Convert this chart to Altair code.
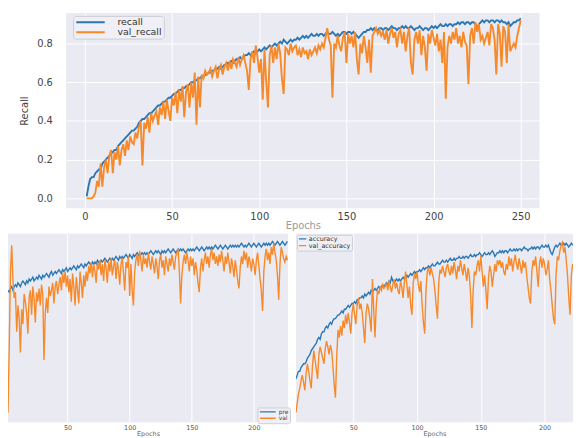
import altair as alt
import pandas as pd

# ---------------- data ----------------
top_epochs = list(range(1, 251))
recall = [
    0.01,0.06,0.10,0.11,0.11,0.13,0.14,0.15,0.15,0.18,
    0.19,0.20,0.21,0.22,0.23,0.24,0.25,0.25,0.27,0.28,
    0.29,0.30,0.31,0.32,0.33,0.34,0.35,0.35,0.36,0.37,
    0.39,0.40,0.41,0.41,0.42,0.43,0.44,0.44,0.45,0.46,
    0.47,0.48,0.48,0.49,0.50,0.50,0.51,0.52,0.52,0.53,
    0.54,0.54,0.55,0.56,0.56,0.57,0.57,0.58,0.58,0.59,
    0.60,0.60,0.61,0.61,0.62,0.62,0.63,0.63,0.64,0.64,
    0.65,0.65,0.66,0.66,0.67,0.67,0.68,0.67,0.68,0.69,
    0.69,0.70,0.70,0.71,0.70,0.71,0.72,0.72,0.73,0.72,
    0.73,0.74,0.74,0.75,0.74,0.75,0.76,0.75,0.76,0.77,
    0.76,0.77,0.78,0.77,0.78,0.79,0.78,0.79,0.80,0.79,
    0.80,0.81,0.80,0.82,0.81,0.80,0.81,0.82,0.81,0.82,
    0.82,0.83,0.82,0.83,0.84,0.83,0.84,0.83,0.84,0.85,
    0.84,0.84,0.85,0.84,0.85,0.85,0.84,0.85,0.86,0.85,
    0.85,0.86,0.85,0.84,0.85,0.84,0.85,0.86,0.86,0.85,
    0.86,0.86,0.85,0.86,0.85,0.84,0.83,0.84,0.85,0.86,
    0.86,0.87,0.87,0.88,0.87,0.88,0.87,0.87,0.88,0.88,
    0.87,0.88,0.88,0.87,0.88,0.89,0.88,0.88,0.87,0.88,
    0.88,0.89,0.88,0.89,0.88,0.88,0.89,0.88,0.87,0.88,
    0.88,0.89,0.88,0.87,0.88,0.88,0.87,0.88,0.89,0.88,
    0.89,0.88,0.89,0.90,0.89,0.89,0.90,0.89,0.90,0.90,
    0.89,0.90,0.90,0.91,0.90,0.91,0.91,0.90,0.91,0.91,
    0.90,0.91,0.91,0.90,0.88,0.90,0.91,0.92,0.91,0.92,
    0.92,0.91,0.92,0.92,0.91,0.92,0.92,0.91,0.92,0.91,
    0.91,0.90,0.91,0.89,0.90,0.91,0.91,0.92,0.92,0.93,
]
val_recall = [
    0.00,0.00,0.00,0.00,0.01,0.03,0.09,0.06,0.18,0.06,
    0.16,0.20,0.13,0.22,0.25,0.13,0.24,0.20,0.27,0.17,
    0.25,0.28,0.22,0.30,0.25,0.32,0.29,0.28,0.34,0.31,
    0.37,0.40,0.17,0.39,0.36,0.42,0.34,0.44,0.40,0.43,
    0.45,0.38,0.47,0.43,0.50,0.41,0.51,0.45,0.40,0.52,
    0.48,0.55,0.44,0.56,0.50,0.58,0.42,0.55,0.59,0.47,
    0.60,0.52,0.65,0.38,0.63,0.47,0.64,0.62,0.66,0.64,
    0.65,0.67,0.63,0.66,0.68,0.62,0.67,0.69,0.64,0.68,
    0.70,0.66,0.71,0.67,0.72,0.70,0.68,0.73,0.69,0.72,
    0.74,0.70,0.66,0.56,0.72,0.76,0.70,0.79,0.73,0.65,
    0.72,0.51,0.77,0.60,0.47,0.74,0.79,0.70,0.78,0.72,
    0.80,0.75,0.62,0.54,0.78,0.77,0.74,0.80,0.76,0.78,
    0.79,0.74,0.77,0.73,0.78,0.75,0.76,0.72,0.77,0.74,
    0.76,0.78,0.75,0.79,0.77,0.80,0.78,0.83,0.88,0.82,
    0.79,0.52,0.80,0.78,0.84,0.79,0.76,0.83,0.86,0.70,
    0.85,0.80,0.84,0.78,0.86,0.72,0.64,0.80,0.75,0.84,
    0.78,0.70,0.82,0.65,0.84,0.86,0.88,0.85,0.87,0.84,
    0.86,0.82,0.87,0.80,0.85,0.88,0.83,0.86,0.78,0.85,
    0.87,0.80,0.86,0.76,0.84,0.88,0.70,0.64,0.82,0.86,
    0.80,0.87,0.74,0.84,0.78,0.66,0.85,0.80,0.87,0.83,
    0.79,0.85,0.76,0.82,0.70,0.86,0.515,0.78,0.84,0.80,
    0.86,0.82,0.88,0.80,0.84,0.78,0.86,0.81,0.79,0.59,
    0.84,0.88,0.80,0.91,0.86,0.90,0.82,0.84,0.80,0.83,
    0.86,0.79,0.90,0.88,0.82,0.64,0.90,0.85,0.68,0.89,
    0.86,0.70,0.90,0.76,0.78,0.80,0.78,0.84,0.88,0.92,
]

# bottom-left panel (precision), visible epochs 2..227
bl_epochs = list(range(2, 228))
precision = [
    0.70,0.69,0.71,0.72,0.70,0.72,0.73,0.72,0.74,0.73,
    0.72,0.74,0.75,0.74,0.73,0.75,0.74,0.76,0.75,0.76,
    0.77,0.75,0.76,0.77,0.76,0.78,0.77,0.76,0.78,0.77,
    0.78,0.79,0.78,0.77,0.79,0.80,0.78,0.79,0.80,0.79,
    0.80,0.81,0.80,0.79,0.81,0.80,0.81,0.82,0.80,0.81,
    0.82,0.81,0.82,0.83,0.82,0.81,0.83,0.82,0.83,0.84,
    0.83,0.82,0.84,0.83,0.84,0.85,0.84,0.83,0.85,0.84,
    0.85,0.84,0.86,0.85,0.84,0.86,0.85,0.86,0.87,0.86,
    0.85,0.86,0.87,0.86,0.87,0.86,0.87,0.88,0.87,0.86,
    0.88,0.87,0.88,0.87,0.88,0.89,0.88,0.87,0.89,0.88,
    0.87,0.89,0.88,0.89,0.90,0.89,0.88,0.89,0.90,0.89,
    0.90,0.89,0.90,0.89,0.90,0.91,0.90,0.89,0.90,0.91,
    0.90,0.91,0.90,0.89,0.91,0.90,0.91,0.90,0.91,0.92,
    0.91,0.90,0.91,0.92,0.91,0.90,0.91,0.92,0.91,0.92,
    0.91,0.92,0.91,0.90,0.91,0.92,0.91,0.92,0.91,0.92,
    0.91,0.92,0.93,0.92,0.91,0.92,0.93,0.92,0.91,0.92,
    0.93,0.92,0.93,0.92,0.93,0.92,0.93,0.94,0.93,0.92,
    0.93,0.94,0.93,0.92,0.93,0.94,0.93,0.92,0.93,0.94,
    0.93,0.94,0.93,0.94,0.93,0.94,0.93,0.94,0.95,0.94,
    0.93,0.94,0.93,0.94,0.95,0.94,0.93,0.94,0.95,0.94,
    0.93,0.94,0.95,0.94,0.93,0.94,0.95,0.94,0.95,0.94,
    0.95,0.94,0.95,0.96,0.95,0.94,0.95,0.96,0.95,0.94,
    0.95,0.96,0.95,0.94,0.95,0.96,
]
val_precision = [
    0.05,0.40,0.80,0.94,0.75,0.66,0.69,0.48,0.62,0.55,
    0.37,0.60,0.52,0.68,0.64,0.58,0.47,0.66,0.70,0.57,
    0.72,0.66,0.53,0.69,0.64,0.71,0.62,0.73,0.68,0.33,
    0.58,0.66,0.58,0.72,0.67,0.70,0.74,0.63,0.72,0.75,
    0.68,0.73,0.77,0.70,0.79,0.74,0.80,0.72,0.78,0.69,
    0.76,0.64,0.79,0.72,0.62,0.77,0.70,0.63,0.80,0.74,
    0.66,0.78,0.72,0.80,0.75,0.83,0.79,0.85,0.77,0.84,
    0.80,0.74,0.85,0.81,0.86,0.78,0.84,0.75,0.86,0.82,
    0.74,0.85,0.80,0.87,0.78,0.83,0.86,0.76,0.85,0.81,
    0.73,0.84,0.87,0.79,0.70,0.85,0.82,0.88,0.67,0.84,
    0.70,0.62,0.80,0.86,0.89,0.83,0.91,0.86,0.80,0.89,
    0.84,0.87,0.82,0.90,0.85,0.81,0.88,0.84,0.79,0.87,
    0.83,0.76,0.86,0.89,0.82,0.86,0.78,0.88,0.84,0.80,
    0.87,0.83,0.89,0.85,0.81,0.88,0.90,0.92,0.80,0.63,
    0.78,0.85,0.89,0.84,0.90,0.86,0.80,0.88,0.83,0.87,
    0.78,0.85,0.81,0.74,0.69,0.82,0.87,0.80,0.86,0.90,
    0.84,0.88,0.82,0.89,0.92,0.86,0.90,0.84,0.88,0.83,
    0.89,0.85,0.91,0.86,0.80,0.88,0.84,0.90,0.85,0.79,
    0.87,0.83,0.77,0.86,0.81,0.75,0.71,0.82,0.88,0.84,
    0.91,0.86,0.90,0.82,0.88,0.85,0.80,0.87,0.84,0.78,
    0.86,0.90,0.83,0.76,0.70,0.59,0.80,0.88,0.92,0.86,
    0.90,0.84,0.93,0.89,0.95,0.90,0.86,0.78,0.65,0.84,
    0.93,0.90,0.87,0.85,0.88,0.86,
]

# bottom-right panel (accuracy), visible epochs 5..222
br_epochs = list(range(5, 223))
accuracy = [
    0.23,0.25,0.27,0.27,0.29,0.30,0.31,0.31,0.32,0.34,
    0.35,0.36,0.38,0.39,0.40,0.41,0.42,0.44,0.45,0.44,
    0.47,0.48,0.48,0.50,0.51,0.50,0.52,0.53,0.52,0.54,
    0.55,0.55,0.56,0.57,0.57,0.58,0.59,0.58,0.60,0.60,
    0.61,0.62,0.61,0.62,0.63,0.63,0.64,0.63,0.65,0.65,
    0.66,0.66,0.67,0.66,0.68,0.67,0.68,0.69,0.68,0.70,
    0.69,0.70,0.71,0.70,0.71,0.72,0.71,0.72,0.73,0.72,
    0.73,0.74,0.73,0.75,0.74,0.77,0.75,0.74,0.75,0.76,
    0.75,0.76,0.75,0.76,0.77,0.76,0.77,0.78,0.77,0.78,
    0.79,0.78,0.79,0.80,0.79,0.80,0.80,0.81,0.80,0.81,
    0.82,0.81,0.82,0.82,0.83,0.82,0.83,0.84,0.83,0.83,
    0.84,0.85,0.84,0.84,0.85,0.86,0.85,0.85,0.86,0.85,
    0.86,0.87,0.86,0.86,0.87,0.86,0.87,0.87,0.88,0.87,
    0.87,0.88,0.87,0.88,0.88,0.87,0.88,0.89,0.88,0.88,
    0.89,0.88,0.89,0.89,0.90,0.89,0.88,0.89,0.90,0.89,
    0.89,0.90,0.89,0.90,0.91,0.90,0.88,0.89,0.90,0.90,
    0.91,0.90,0.91,0.90,0.91,0.91,0.90,0.91,0.92,0.91,
    0.91,0.92,0.91,0.92,0.91,0.92,0.92,0.91,0.92,0.93,
    0.92,0.92,0.91,0.92,0.92,0.93,0.92,0.93,0.92,0.93,
    0.93,0.92,0.93,0.94,0.93,0.93,0.94,0.93,0.94,0.92,
    0.90,0.89,0.91,0.93,0.94,0.93,0.94,0.95,0.94,0.94,
    0.95,0.94,0.95,0.94,0.93,0.94,0.95,0.94,
]
val_accuracy = [
    0.05,0.10,0.15,0.18,0.22,0.25,0.21,0.17,0.26,0.31,
    0.27,0.22,0.18,0.30,0.38,0.33,0.28,0.23,0.36,0.40,
    0.37,0.34,0.31,0.39,0.43,0.40,0.36,0.41,0.38,0.30,
    0.20,0.13,0.35,0.49,0.45,0.51,0.46,0.54,0.50,0.57,
    0.52,0.58,0.53,0.47,0.58,0.63,0.57,0.52,0.62,0.66,
    0.60,0.63,0.58,0.50,0.42,0.58,0.63,0.60,0.55,0.48,
    0.76,0.60,0.45,0.62,0.70,0.68,0.72,0.70,0.73,0.71,
    0.72,0.74,0.70,0.75,0.72,0.69,0.73,0.76,0.71,0.74,
    0.70,0.68,0.75,0.72,0.66,0.74,0.80,0.73,0.66,0.72,
    0.62,0.57,0.74,0.79,0.76,0.80,0.73,0.69,0.75,0.62,
    0.53,0.47,0.70,0.80,0.82,0.78,0.82,0.79,0.76,0.70,
    0.62,0.55,0.74,0.81,0.79,0.83,0.80,0.77,0.82,0.84,
    0.80,0.78,0.83,0.79,0.85,0.81,0.76,0.83,0.80,0.86,
    0.82,0.78,0.84,0.80,0.75,0.82,0.78,0.68,0.50,0.70,
    0.80,0.78,0.83,0.86,0.80,0.885,0.80,0.72,0.78,0.70,
    0.60,0.76,0.83,0.80,0.72,0.78,0.84,0.80,0.86,0.84,
    0.86,0.82,0.85,0.80,0.78,0.84,0.81,0.88,0.83,0.87,
    0.80,0.85,0.89,0.84,0.81,0.87,0.83,0.79,0.86,0.82,
    0.85,0.78,0.72,0.66,0.63,0.80,0.86,0.83,0.88,0.80,
    0.72,0.84,0.88,0.82,0.87,0.84,0.78,0.81,0.86,0.76,
    0.70,0.62,0.55,0.52,0.78,0.88,0.86,0.91,0.94,0.955,
    0.90,0.93,0.86,0.78,0.66,0.57,0.78,0.84,
]

top_ticks_x = [0, 50, 100, 150, 200, 250]
top_ticks_y = [0.0, 0.2, 0.4, 0.6, 0.8]
bottom_ticks_x = [50, 100, 150, 200]

BLUE = "#2a77b4"
ORANGE = "#f6892a"
BG = "#EAEAF2"
FONT = "DejaVu Sans"


def long_frame(epochs, a, b, name_a, name_b):
    return pd.DataFrame({
        "epoch": list(epochs) + list(epochs),
        "value": list(a) + list(b),
        "metric": [name_a] * len(a) + [name_b] * len(b),
    })


top_df = long_frame(top_epochs, recall, val_recall, "recall", "val_recall")
bl_df = long_frame(bl_epochs, precision, val_precision, "precision", "val_precision")
br_df = long_frame(br_epochs, accuracy, val_accuracy, "accuracy", "val_accuracy")

# ---------------- top panel ----------------
top = alt.Chart(top_df).mark_line(strokeWidth=1.9, clip=True).encode(
    x=alt.X("epoch:Q",
            scale=alt.Scale(domain=[-10.75, 260.75], nice=False, zero=False),
            axis=alt.Axis(values=top_ticks_x, title="Epochs", grid=True, gridColor="white",
                          gridWidth=1, ticks=False, domain=False, labelPadding=3,
                          labelFontSize=10, labelColor="#444", labelFont=FONT,
                          titleFontSize=10, titleColor="#9a9a9a", titlePadding=0,
                          titleFontWeight="normal", titleFont=FONT)),
    y=alt.Y("value:Q",
            scale=alt.Scale(domain=[-0.051, 0.958], nice=False, zero=False),
            axis=alt.Axis(values=top_ticks_y, format=".1f", title="Recall", grid=True,
                          gridColor="white", gridWidth=1, ticks=False, domain=False,
                          labelPadding=14, labelFontSize=10, labelColor="#444",
                          labelFont=FONT, titleFontSize=10, titleColor="#444",
                          titlePadding=7, titleFontWeight="normal", titleFont=FONT)),
    color=alt.Color("metric:N",
                    scale=alt.Scale(domain=["recall", "val_recall"], range=[BLUE, ORANGE]),
                    legend=alt.Legend(orient="none", legendX=7, legendY=3, title=None,
                                      symbolType="M-1,0H4.5", symbolSize=110,
                                      symbolStrokeWidth=2, labelOffset=30, clipHeight=9,
                                      labelFontSize=9.5, labelColor="#333", labelFont=FONT,
                                      padding=2, rowPadding=0, fillColor="#EFEFF5",
                                      strokeColor="#CDCDD6", cornerRadius=3)),
).properties(width=480, height=198, view=alt.ViewBackground(fill=BG, strokeWidth=0))

spacer = alt.Chart(pd.DataFrame({"v": [0]})).mark_point(opacity=0).encode(
    x=alt.X("v:Q", axis=None),
    y=alt.Y("v:Q", axis=None),
).properties(width=12, height=198, view=alt.ViewBackground(fill="white", strokeWidth=0))


# ---------------- bottom panels ----------------
def bottom_x(domain):
    return alt.X("epoch:Q",
                 scale=alt.Scale(domain=domain, nice=False, zero=False),
                 axis=alt.Axis(values=bottom_ticks_x, title="Epochs", grid=True,
                               gridColor="white", gridWidth=1, ticks=False, domain=False,
                               labelPadding=2, labelFontSize=6.5, labelColor="#555",
                               labelFont=FONT, titleFontSize=6.5, titleColor="#666",
                               titlePadding=0, titleFontWeight="normal", titleFont=FONT))


bottom_y = alt.Y("value:Q", scale=alt.Scale(domain=[0, 1], nice=False, zero=False), axis=None)

bl = alt.Chart(bl_df).mark_line(strokeWidth=1.4, clip=True).encode(
    x=bottom_x([2, 227.5]),
    y=bottom_y,
    color=alt.Color("metric:N",
                    scale=alt.Scale(domain=["precision", "val_precision"], range=[BLUE, ORANGE]),
                    legend=alt.Legend(orient="none", legendX=253, legendY=176, title=None,
                                      symbolType="M-1,0H3", symbolSize=64,
                                      symbolStrokeWidth=1.3, labelOffset=10, clipHeight=6,
                                      labelExpr="slice(datum.label, 0, 3)",
                                      labelFontSize=6, labelColor="#444", labelFont=FONT,
                                      padding=1.5, rowPadding=0.5, fillColor="#EFEFF5",
                                      strokeColor="#CDCDD6", cornerRadius=2)),
).properties(width=284, height=191, view=alt.ViewBackground(fill=BG, strokeWidth=0))

br = alt.Chart(br_df).mark_line(strokeWidth=1.4, clip=True).encode(
    x=bottom_x([5, 222.3]),
    y=bottom_y,
    color=alt.Color("metric:N",
                    scale=alt.Scale(domain=["accuracy", "val_accuracy"], range=[BLUE, ORANGE]),
                    legend=alt.Legend(orient="none", legendX=1, legendY=1, title=None,
                                      symbolType="M-1,0H1.5", symbolSize=36,
                                      symbolStrokeWidth=1.3, labelOffset=3, clipHeight=6,
                                      labelFontSize=6.5, labelColor="#333", labelFont=FONT,
                                      padding=1, rowPadding=0, fillColor="#EFEFF5",
                                      strokeColor="#CDCDD6", cornerRadius=2)),
).properties(width=281, height=191, view=alt.ViewBackground(fill=BG, strokeWidth=0))

top_row = alt.hconcat(spacer, top, spacing=0).resolve_scale(color="independent")
bottom_row = alt.hconcat(bl, br, spacing=8, bounds="flush").resolve_scale(color="independent")

chart = alt.vconcat(top_row, bottom_row, spacing=3).resolve_scale(
    color="independent"
).properties(
    padding={"left": 0, "top": 2, "right": 0, "bottom": 0},
    background="white",
).configure_view(strokeWidth=0)

chart.save("out.html", embed_options={"renderer": "svg", "actions": False})
